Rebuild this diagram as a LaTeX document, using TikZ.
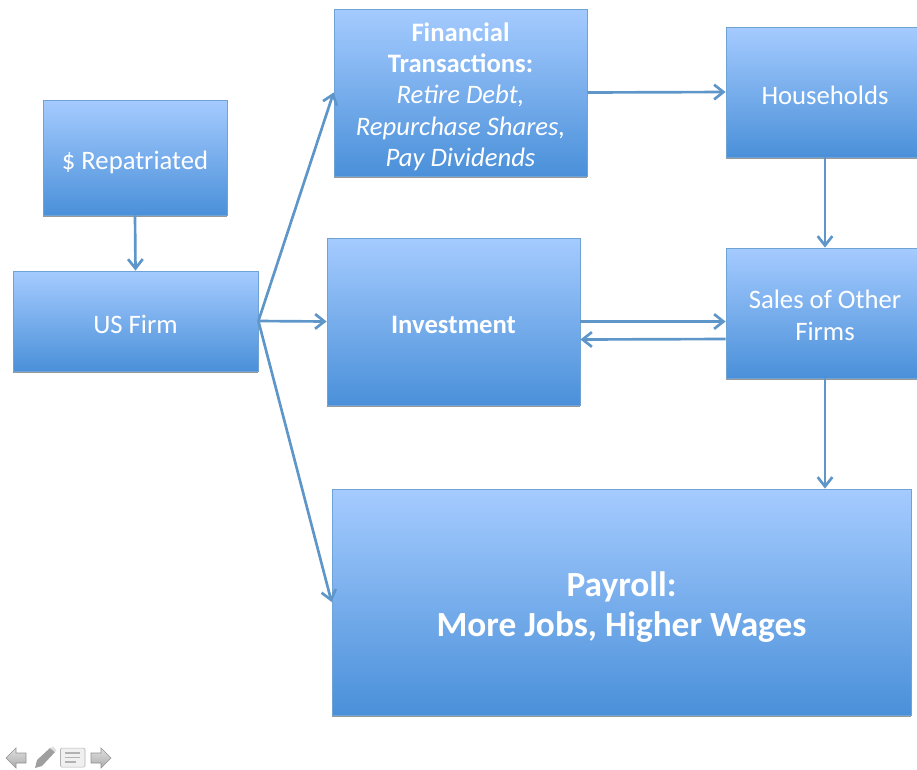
\documentclass[tikz,border=0pt]{standalone}
\usepackage{fontspec}
\setmainfont{Carlito}
\usetikzlibrary{arrows.meta,shadows}
\definecolor{boxtop}{HTML}{A5CBFF}
\definecolor{boxbot}{HTML}{4A90D9}
\definecolor{boxline}{HTML}{6FA3D6}
\definecolor{arrowcol}{HTML}{5F96CA}
\tikzset{box/.style 2 args={rectangle,draw=boxline,line width=.6pt,top color=boxtop,bottom color=boxbot,text=white,align=center,inner sep=0pt,minimum width=#1*.75pt,minimum height=#2*.75pt,font=\fontsize{20}{23.5}\selectfont,drop shadow={shadow xshift=0pt,shadow yshift=-1.5pt,opacity=.4,fill=black}}}
\tikzset{conn/.style={draw=arrowcol,line width=2pt,-{Straight Barb[length=7pt,width=11pt]}}}
\tikzset{navarrow/.style={draw=gray!85,line width=.5pt,top color=gray!25,bottom color=gray!65}}
\newcommand{\textdrop}[1]{\rule{0pt}{#1}}
\begin{document}
\begin{tikzpicture}[x=.75pt,y=-.75pt]
  \useasboundingbox (0,0) rectangle (917,769);
  \node[box={184}{115}] (rep) at (135,157.5) {\textdrop{20.5pt}\$ Repatriated};
  \node[box={245}{100}] (firm) at (135.5,321) {\textdrop{19pt}US Firm};
  \node[box={253}{167}] (fin) at (460.5,92.5) {\textdrop{20pt}\textbf{Financial}\\\textbf{Transactions:}\\\textit{Retire Debt,}\\\textit{Repurchase Shares,}\\\textit{Pay Dividends}};
  \node[box={198}{130}] (house) at (825,92) {\textdrop{19pt}Households};
  \node[box={253}{167}] (inv) at (453.5,321.5) {\textdrop{17.5pt}\textbf{Investment}};
  \node[box={198}{130}] (sales) at (825,313) {\textdrop{17.5pt}Sales of Other\\Firms};
  \node[box={579}{226},font=\fontsize{26.5}{30}\selectfont\bfseries] (pay) at (621.5,602) {\textdrop{25.5pt}Payroll:\\More Jobs, Higher Wages};
  \draw[conn] (rep.south) -- (firm.north);
  \draw[conn] (firm.east) -- (fin.west);
  \draw[conn] (firm.east) -- (inv.west);
  \draw[conn] (firm.east) -- (pay.west);
  \draw[conn] (fin.east) -- (house.west);
  \draw[conn] (house.south) -- (sales.north);
  \draw[conn] (inv.east) -- (inv.east -| sales.west);
  \draw[conn] ([yshift=-19.5pt]sales.west) -- ([yshift=-13.5pt]inv.east);
  \draw[conn] (sales.south) -- (sales.south |- pay.north);
  % navigation icons
  \draw[navarrow] (6,758) -- (16,748) -- (16,753) -- (26,753) -- (26,763) -- (16,763) -- (16,768) -- cycle;
  \fill[gray!75] (35,768) -- (37,760) -- (50,748) -- (55,752) -- (42,766) -- cycle;
  \fill[gray!25] (50,748) -- (53,746.5) -- (56.5,750) -- (55,752) -- cycle;
  \draw[gray!60,fill=gray!12,rounded corners=1pt] (60.5,748) rectangle (85,767);
  \draw[gray!60,line width=1pt] (65,753) -- (80,753) (65,757.5) -- (80,757.5) (65,762) -- (76,762);
  \draw[navarrow] (111,758) -- (101,748) -- (101,753) -- (91,753) -- (91,763) -- (101,763) -- (101,768) -- cycle;
\end{tikzpicture}
\end{document}
